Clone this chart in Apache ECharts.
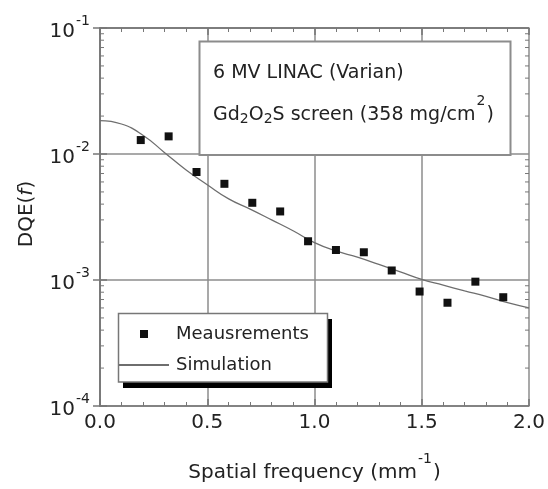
<!DOCTYPE html>
<html>
<head>
<meta charset="utf-8">
<script src="https://cdn.jsdelivr.net/npm/echarts@6/dist/echarts.min.js"></script>
<style>
  html, body { margin: 0; padding: 0; background: #fff; }
  #chart { width: 548px; height: 489px; }
</style>
</head>
<body>
<div id="chart"></div>
<script>
// measured points
var measX = [0.19, 0.32, 0.45, 0.58, 0.71, 0.84, 0.97, 1.10, 1.23, 1.36, 1.49, 1.62, 1.75, 1.88];
var measY = [0.0129, 0.0138, 0.0072, 0.0058, 0.0041, 0.0035, 0.00203, 0.00173, 0.00166, 0.00119, 0.00081, 0.00066, 0.00097, 0.00073];
// simulation curve
var simX = [0, 0.1, 0.2, 0.3, 0.4, 0.5, 0.6, 0.7, 0.8, 0.9, 1.0, 1.1, 1.2, 1.3, 1.4, 1.5, 1.6, 1.7, 1.8, 1.9, 2.0];
var simY = [0.0184, 0.0173, 0.0141, 0.0103, 0.0075, 0.0057, 0.0044, 0.00365, 0.0030, 0.00246, 0.00198, 0.0017, 0.00152, 0.00133, 0.00116, 0.00101, 0.00091, 0.00082, 0.00074, 0.00066, 0.0006];
// log minor ticks
var yMinorTicks = [2e-4, 3e-4, 4e-4, 5e-4, 6e-4, 7e-4, 8e-4, 9e-4,
                   2e-3, 3e-3, 4e-3, 5e-3, 6e-3, 7e-3, 8e-3, 9e-3,
                   2e-2, 3e-2, 4e-2, 5e-2, 6e-2, 7e-2, 8e-2, 9e-2];

var FONT = 'DejaVu Sans';
var TXT = '#222';
var AX = '#777';
var GRID = '#8c8c8c';

var chart = echarts.init(document.getElementById('chart'));

function pairs(xs, ys) {
  return xs.map(function (x, i) { return [x, ys[i]]; });
}

var axisLineStyle = { color: AX, width: 1.5 };

var option = {
  animation: false,
  backgroundColor: '#fff',
  grid: { left: 100, right: 19, top: 28, bottom: 83, containLabel: false },
  legend: {
    data: ['Meausrements', { name: 'Simulation', itemStyle: { opacity: 0 } }],
    orient: 'vertical',
    left: 118,
    top: 313,
    padding: [12, 18, 8, 0],
    itemGap: 13,
    itemWidth: 50,
    itemHeight: 10,
    textStyle: { fontFamily: FONT, fontSize: 18, color: TXT, padding: [0, 0, 0, 2] },
    selectedMode: false
  },
  xAxis: [{
    type: 'value', min: 0, max: 2, interval: 0.5, position: 'bottom',
    name: '{m|Spatial frequency (mm}{s|-1}{m|)}',
    nameLocation: 'middle', nameGap: 43,
    nameTextStyle: {
      rich: {
        m: { fontFamily: FONT, fontSize: 20, color: TXT, lineHeight: 20, padding: [14, 0, 0, 0], verticalAlign: 'top' },
        s: { fontFamily: FONT, fontSize: 14, color: TXT, lineHeight: 14, padding: [3, 1, 0, 1], verticalAlign: 'top' }
      }
    },
    axisLine: { lineStyle: axisLineStyle },
    axisTick: { inside: true, length: 7, lineStyle: axisLineStyle },
    minorTick: { show: true, splitNumber: 5, length: 4, lineStyle: { color: AX, width: 1 } },
    splitLine: { show: true, lineStyle: { color: GRID, width: 1.5 } },
    axisLabel: { fontFamily: FONT, fontSize: 20, color: TXT, margin: 7, formatter: function (v) { return v.toFixed(1); } }
  }, {
    type: 'value', min: 0, max: 2, interval: 0.5, position: 'top',
    axisLine: { lineStyle: axisLineStyle },
    axisTick: { inside: true, length: 7, lineStyle: axisLineStyle },
    minorTick: { show: true, splitNumber: 5, length: 4, lineStyle: { color: AX, width: 1 } },
    splitLine: { show: false },
    axisLabel: { show: false }
  }],
  yAxis: [{
    type: 'log', logBase: 10, min: 1e-4, max: 1e-1, position: 'left',
    name: 'DQE({i|f})',
    nameLocation: 'middle', nameGap: 63,
    nameTextStyle: {
      fontFamily: FONT, fontSize: 20, color: TXT, padding: [0, 0, 0, 6],
      rich: { i: { fontFamily: FONT, fontSize: 20, color: TXT, fontStyle: 'italic' } }
    },
    axisLine: { lineStyle: axisLineStyle },
    axisTick: { inside: true, length: 7, lineStyle: axisLineStyle },
    splitLine: { show: true, lineStyle: { color: GRID, width: 1.5 } },
    axisLabel: {
      margin: 10,
      formatter: function (v) { return '{b|10}{s|' + Math.round(Math.log10(v)) + '}'; },
      rich: {
        b: { fontFamily: FONT, fontSize: 20, color: TXT, lineHeight: 36, padding: [11.5, 0, 0, 0], verticalAlign: 'top' },
        s: { fontFamily: FONT, fontSize: 14, color: TXT, lineHeight: 14, padding: [4.5, 0, 0, 1], verticalAlign: 'top' }
      }
    }
  }, {
    type: 'log', logBase: 10, min: 1e-4, max: 1e-1, position: 'right',
    axisLine: { lineStyle: axisLineStyle },
    axisTick: { inside: true, length: 7, lineStyle: axisLineStyle },
    splitLine: { show: false },
    axisLabel: { show: false }
  }],
  graphic: [{
    // annotation box
    type: 'rect', z: 10,
    shape: { x: 199.5, y: 41.5, width: 311, height: 113.5 },
    style: { fill: '#fff', stroke: GRID, lineWidth: 2 }
  }, {
    type: 'text', z: 11, x: 213, y: 73,
    style: { text: '6 MV LINAC (Varian)', fontFamily: FONT, fontSize: 19, fill: TXT, verticalAlign: 'middle' }
  }, {
    type: 'text', z: 11, x: 213, y: 101,
    style: {
      text: '{n|Gd}{sub|2}{n|O}{sub|2}{n|S screen (358 mg/cm}{sup|2}{n|)}',
      verticalAlign: 'middle',
      rich: {
        n: { fontFamily: FONT, fontSize: 19, fill: TXT, lineHeight: 19, padding: [14, 0, 4, 0], verticalAlign: 'top' },
        sub: { fontFamily: FONT, fontSize: 14, fill: TXT, lineHeight: 14, padding: [21, 0, 0, 0], verticalAlign: 'top' },
        sup: { fontFamily: FONT, fontSize: 14, fill: TXT, lineHeight: 14, padding: [3, 1, 0, 1], verticalAlign: 'top' }
      }
    }
  }, {
    // legend frame with hard shadow
    type: 'rect', z: 3,
    shape: { x: 123, y: 319, width: 209, height: 69 },
    style: { fill: '#000' }
  }, {
    type: 'rect', z: 3,
    shape: { x: 118.5, y: 313.5, width: 209, height: 68.5 },
    style: { fill: '#fff', stroke: AX, lineWidth: 1.5 }
  }],
  series: [{
    name: 'Simulation',
    type: 'line',
    data: pairs(simX, simY),
    smooth: true,
    symbol: 'none',
    lineStyle: { color: '#6e6e6e', width: 1.3 },
    itemStyle: { color: '#6e6e6e' },
    z: 3
  }, {
    name: 'Meausrements',
    type: 'line',
    data: pairs(measX, measY),
    symbol: 'rect',
    symbolSize: 8,
    lineStyle: { width: 0, opacity: 0 },
    itemStyle: { color: '#111' },
    z: 4
  }, {
    type: 'custom',
    silent: true,
    clip: false,
    data: yMinorTicks.map(function (v) { return [0, v]; }),
    renderItem: function (params, api) {
      var v = api.value(1);
      var pl = api.coord([0, v]);
      var pr = api.coord([2, v]);
      var st = { stroke: AX, lineWidth: 1 };
      return {
        type: 'group',
        children: [
          { type: 'line', shape: { x1: pl[0], y1: pl[1], x2: pl[0] + 4, y2: pl[1] }, style: st },
          { type: 'line', shape: { x1: pr[0], y1: pr[1], x2: pr[0] - 4, y2: pr[1] }, style: st }
        ]
      };
    },
    z: 5
  }]
};

chart.setOption(option);
</script>
</body>
</html>
